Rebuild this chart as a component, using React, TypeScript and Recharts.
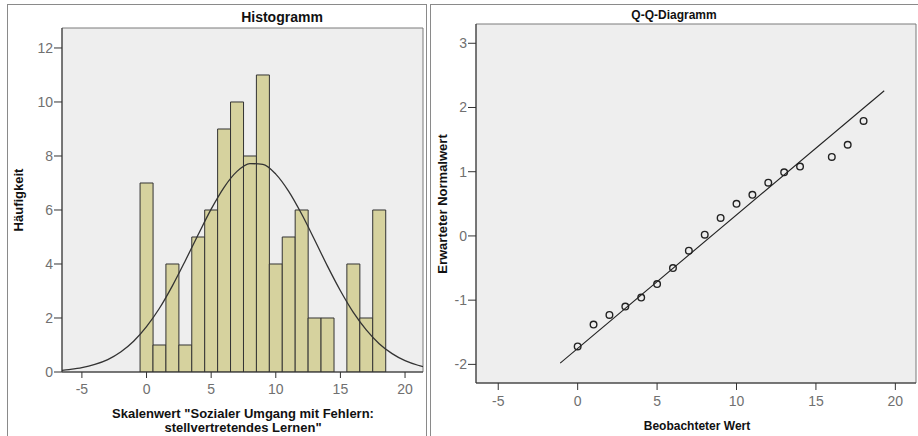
import React from 'react';
import { ComposedChart, Bar, Line, Scatter, XAxis, YAxis, ReferenceArea } from 'recharts';

// Histogram bins (observed score) and their counts
const BIN_VALUES = [0, 1, 2, 3, 4, 5, 6, 7, 8, 9, 10, 11, 12, 13, 14, 15, 16, 17, 18];
const BIN_COUNTS = [7, 1, 4, 1, 5, 6, 9, 10, 8, 11, 4, 5, 6, 2, 2, 0, 4, 2, 6];

// normal curve
const CURVE_X = [-7, -6, -5, -4, -3, -2, -1, 0, 1, 2, 3, 4, 5, 6, 7, 8, 9, 10, 11, 12, 13, 14, 15, 16, 17, 18, 19, 20, 21, 22];
const CURVE_Y = [0.04, 0.09, 0.16, 0.28, 0.46, 0.74, 1.14, 1.68, 2.36, 3.19, 4.12, 5.09, 6.03, 6.84, 7.43, 7.72, 7.69, 7.33, 6.69, 5.85, 4.9, 3.92, 3.01, 2.21, 1.56, 1.05, 0.68, 0.42, 0.25, 0.14];

// Q-Q plot: observed values vs expected normal
const QQ_OBSERVED = [0, 1, 2, 3, 4, 5, 6, 7, 8, 9, 10, 11, 12, 13, 14, 16, 17, 18];
const QQ_EXPECTED = [-1.72, -1.38, -1.23, -1.1, -0.96, -0.75, -0.5, -0.23, 0.02, 0.28, 0.5, 0.64, 0.83, 0.99, 1.08, 1.23, 1.42, 1.79];
const QQ_LINE_X = [-1.1, 19.3];
const QQ_LINE_Y = [-1.98, 2.26];

const HIST_X_TICKS = [-5, 0, 5, 10, 15, 20];
const HIST_Y_TICKS = [0, 2, 4, 6, 8, 10, 12];
const QQ_X_TICKS = [-5, 0, 5, 10, 15, 20];
const QQ_Y_TICKS = [-2, -1, 0, 1, 2, 3];

const histData = BIN_VALUES.map((x, i) => ({ x, count: BIN_COUNTS[i] }));
const curveData = CURVE_X.map((x, i) => ({ x, y: CURVE_Y[i] }));
const qqData = QQ_OBSERVED.map((x, i) => ({ x, y: QQ_EXPECTED[i] }));
const qqLine = QQ_LINE_X.map((x, i) => ({ x, y: QQ_LINE_Y[i] }));

const FONT = '"Liberation Sans", Arial, sans-serif';
const tickStyle = { fill: '#707070', fontSize: 14, fontFamily: FONT };
const labelStyle: React.CSSProperties = {
    position: 'absolute', fontFamily: FONT, fontWeight: 'bold', fontSize: 13, color: '#111',
    whiteSpace: 'nowrap', lineHeight: '14px',
};

const HollowCircle = (props: any) => (
    <circle cx={props.cx} cy={props.cy} r={3.3} fill="none" stroke="#222" strokeWidth={1.4} />
);

const App: React.FC = () => {
    const histDomainX: [number, number] = [-6.54, 21.39];
    const histDomainY: [number, number] = [0, 12.74];
    const qqDomainX: [number, number] = [-6.4, 21.3];
    const qqDomainY: [number, number] = [-2.29, 3.3];

    return (
        <div style={{ position: 'absolute', left: 0, top: 0, width: 918, height: 436, background: '#fff', overflow: 'hidden' }}>
            {/* panel frames */}
            <div style={{ position: 'absolute', left: 7, top: 4, width: 418, height: 440, border: '1px solid #8a8a8a' }} />
            <div style={{ position: 'absolute', left: 430, top: 4, width: 500, height: 440, border: '1px solid #8a8a8a' }} />

            {/* Histogram */}
            <div style={{ position: 'absolute', left: 0, top: 0 }}>
                <ComposedChart width={426} height={436} data={histData} barCategoryGap={0} barGap={0}
                               margin={{ top: 28, right: 3, bottom: 34, left: 22 }}>
                    <XAxis xAxisId="main" dataKey="x" type="number" domain={histDomainX} allowDataOverflow
                           ticks={HIST_X_TICKS} tick={tickStyle} tickSize={6} tickMargin={6} height={30}
                           axisLine={{ stroke: '#333' }} tickLine={{ stroke: '#333' }} />
                    <XAxis xAxisId="bars" dataKey="x" type="number" domain={histDomainX} allowDataOverflow hide height={0} />
                    <YAxis yAxisId="main" type="number" domain={histDomainY} allowDataOverflow ticks={HIST_Y_TICKS}
                           tick={tickStyle} tickSize={8} tickMargin={1} width={40}
                           axisLine={{ stroke: '#333' }} tickLine={{ stroke: '#333' }} />
                    <ReferenceArea xAxisId="main" yAxisId="main" x1={histDomainX[0]} x2={histDomainX[1]}
                                   y1={histDomainY[0]} y2={histDomainY[1]} fill="#eeeeee" fillOpacity={1}
                                   stroke="#7a7a7a" strokeWidth={1} />
                    <Bar xAxisId="bars" yAxisId="main" dataKey="count" fill="#d6d29e" stroke="#333" strokeWidth={1}
                         isAnimationActive={false} />
                    <Line xAxisId="main" yAxisId="main" data={curveData} dataKey="y" type="monotone" stroke="#333"
                          strokeWidth={1.3} dot={false} isAnimationActive={false} />
                </ComposedChart>
            </div>

            {/* Q-Q plot */}
            <div style={{ position: 'absolute', left: 430, top: 0 }}>
                <ComposedChart width={488} height={436} margin={{ top: 24, right: 2, bottom: 23, left: 6 }}>
                    <XAxis xAxisId="main" dataKey="x" type="number" domain={qqDomainX} allowDataOverflow
                           ticks={QQ_X_TICKS} tick={tickStyle} tickSize={7} tickMargin={6} height={30}
                           axisLine={{ stroke: '#333' }} tickLine={{ stroke: '#333' }} />
                    <YAxis yAxisId="main" dataKey="y" type="number" domain={qqDomainY} allowDataOverflow ticks={QQ_Y_TICKS}
                           tick={tickStyle} tickSize={8} tickMargin={1} width={40}
                           axisLine={{ stroke: '#333' }} tickLine={{ stroke: '#333' }} />
                    <ReferenceArea xAxisId="main" yAxisId="main" x1={qqDomainX[0]} x2={qqDomainX[1]}
                                   y1={qqDomainY[0]} y2={qqDomainY[1]} fill="#eeeeee" fillOpacity={1}
                                   stroke="#7a7a7a" strokeWidth={1} />
                    <Line xAxisId="main" yAxisId="main" data={qqLine} dataKey="y" type="linear" stroke="#222"
                          strokeWidth={1.1} dot={false} isAnimationActive={false} />
                    <Scatter xAxisId="main" yAxisId="main" data={qqData} dataKey="y" shape={HollowCircle}
                             isAnimationActive={false} />
                </ComposedChart>
            </div>

            {/* titles and axis labels */}
            <div style={{ ...labelStyle, left: 282, top: 10, transform: 'translateX(-50%)', fontSize: 14 }}>Histogramm</div>
            <div style={{ ...labelStyle, left: 674, top: 8, transform: 'translateX(-50%)', fontSize: 12 }}>Q-Q-Diagramm</div>
            <div style={{ ...labelStyle, left: 19, top: 200, transform: 'translate(-50%, -50%) rotate(-90deg)' }}>Häufigkeit</div>
            <div style={{ ...labelStyle, left: 443, top: 204, transform: 'translate(-50%, -50%) rotate(-90deg)' }}>Erwarteter Normalwert</div>
            <div style={{ ...labelStyle, left: 243, top: 407, transform: 'translateX(-50%)', textAlign: 'center' }}>
                Skalenwert "Sozialer Umgang mit Fehlern:<br />stellvertretendes Lernen"
            </div>
            <div style={{ ...labelStyle, left: 697, top: 419, transform: 'translateX(-50%)', fontSize: 12 }}>Beobachteter Wert</div>
        </div>
    );
};

export default App;
